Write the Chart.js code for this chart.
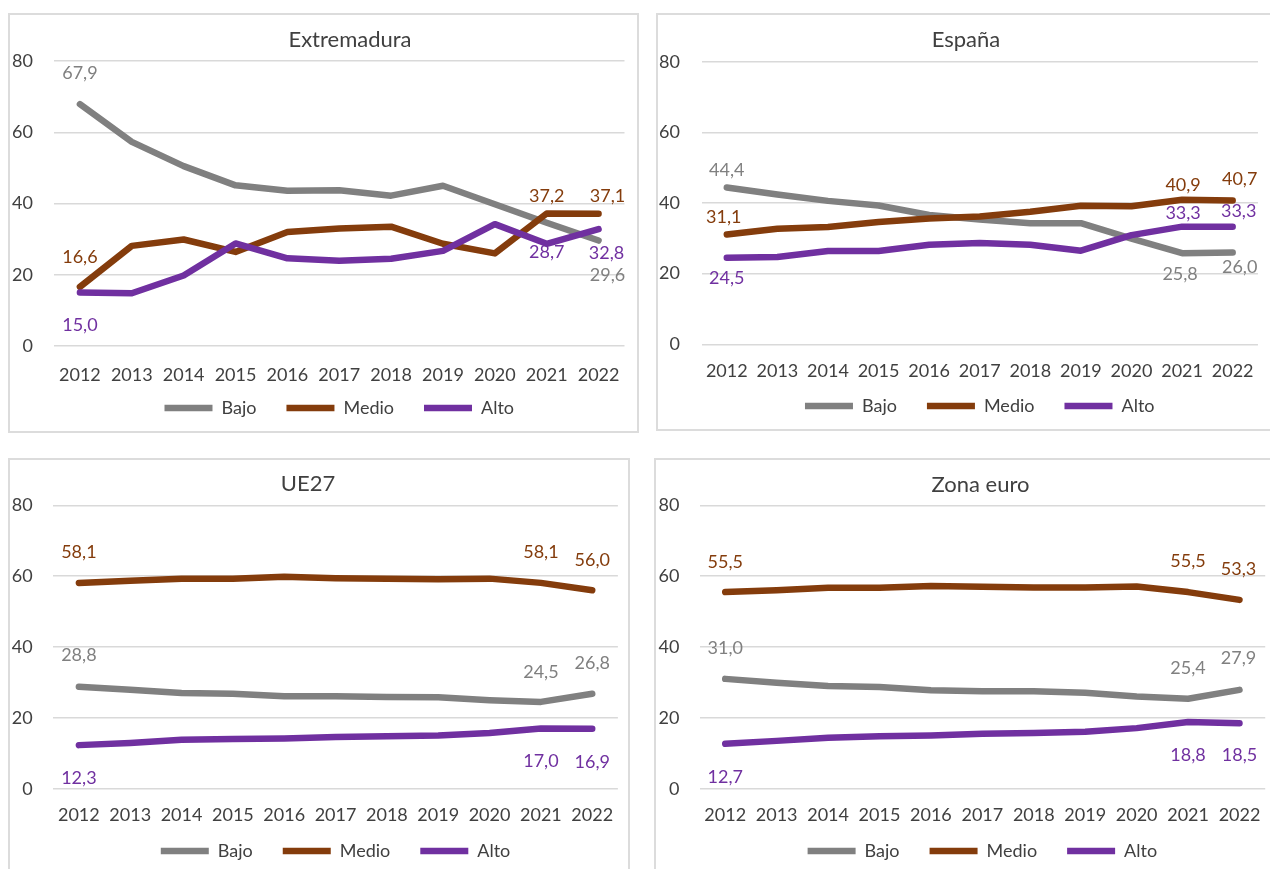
<!DOCTYPE html>
<html>
<head>
<meta charset="utf-8">
<script src="https://cdn.jsdelivr.net/npm/chart.js@4.4.0/dist/chart.umd.min.js"></script>
<style>
html,body{margin:0;padding:0;background:#fff;overflow:hidden;width:1270px;height:869px;position:relative;}
.frame{position:absolute;border:2px solid #dcdcdc;box-sizing:border-box;}
canvas{position:absolute;}
</style>
</head>
<body>
<script>
// ---------- data ----------
const years = ['2012','2013','2014','2015','2016','2017','2018','2019','2020','2021','2022'];
const seriesNames = ['Bajo','Medio','Alto'];
const seriesColors = ['#808080','#843c0c','#7030a0'];
const yMin = 0, yMax = 80, yStep = 20;

const extremaduraBajo  = [67.9,57.3,50.5,45.1,43.6,43.7,42.2,45.0,39.8,34.6,29.6];
const extremaduraMedio = [16.6,28.1,29.9,26.4,32.0,33.0,33.5,28.7,26.0,37.2,37.1];
const extremaduraAlto  = [15.0,14.8,19.8,28.8,24.6,23.9,24.5,26.7,34.2,28.7,32.8];

const espanaBajo  = [44.4,42.4,40.6,39.3,36.6,35.3,34.3,34.3,29.9,25.8,26.0];
const espanaMedio = [31.1,32.7,33.2,34.6,35.6,36.2,37.5,39.2,39.1,40.9,40.7];
const espanaAlto  = [24.5,24.7,26.4,26.4,28.2,28.7,28.2,26.5,30.9,33.3,33.3];

const ue27Bajo  = [28.8,27.9,27.0,26.8,26.1,26.1,25.9,25.8,25.0,24.5,26.8];
const ue27Medio = [58.1,58.7,59.3,59.3,59.8,59.4,59.3,59.1,59.3,58.1,56.0];
const ue27Alto  = [12.3,12.9,13.8,14.0,14.2,14.6,14.8,15.0,15.7,17.0,16.9];

const zonaEuroBajo  = [31.0,29.9,29.0,28.7,27.8,27.5,27.5,27.1,26.0,25.4,27.9];
const zonaEuroMedio = [55.5,56.0,56.7,56.7,57.2,57.0,56.8,56.8,57.1,55.5,53.3];
const zonaEuroAlto  = [12.7,13.5,14.4,14.8,15.0,15.5,15.7,16.1,17.1,18.8,18.5];

const panelTitles = ['Extremadura','España','UE27','Zona euro'];

// ---------- layout (positions only) ----------
const FONT = 'Lato';
const TEXT = '#404040';
const LEGEND_PAD = 30;
const X_AXIS_H = 45;
const LEGEND_H = 18 + LEGEND_PAD + 10;
const panels = [
  {title:panelTitles[0], series:[extremaduraBajo,extremaduraMedio,extremaduraAlto],
   frame:{L:8,T:13,W:631,H:420}, canvas:{L:8,T:13,W:630},
   area:{l:54,t:61,r:626,b:346}, legendY:408, titleX:350, titleY:40, xGap:29, yGap:21,
   labels:[[[0,0,-31],[10,9,34.5]],
           [[0,0,-30],[9,0,-17],[10,9,-18]],
           [[0,0,33],[9,0,8.5],[10,8,24]]]},
  {title:panelTitles[1], series:[espanaBajo,espanaMedio,espanaAlto],
   frame:{L:656,T:13,W:640,H:418}, canvas:{L:656,T:13,W:614},
   area:{l:701.5,t:61.7,r:1269,b:344.3}, legendY:406, titleX:966, titleY:40, xGap:27.4, yGap:21.5,
   labels:[[[0,0,-17],[9,-2,21],[10,7,15]],
           [[0,-3,-17],[9,1,-14.5],[10,7,-21]],
           [[0,0,20],[9,1,-13],[10,6,-15]]]},
  {title:panelTitles[2], series:[ue27Bajo,ue27Medio,ue27Alto],
   frame:{L:8,T:458,W:622,H:440}, canvas:{L:8,T:458,W:621},
   area:{l:53.2,t:505.3,r:620.4,b:788.7}, legendY:851, titleX:308, titleY:484, xGap:26.5, yGap:20.5,
   labels:[[[0,0,-31],[9,0,-30],[10,0,-31]],
           [[0,0,-31],[9,0,-31],[10,0,-30]],
           [[0,0,33],[9,0,33],[10,0,33]]]},
  {title:panelTitles[3], series:[zonaEuroBajo,zonaEuroMedio,zonaEuroAlto],
   frame:{L:654,T:458,W:640,H:440}, canvas:{L:654,T:458,W:622},
   area:{l:699.5,t:505.3,r:1273.5,b:788.7}, legendY:851, titleX:980.5, titleY:485, xGap:26.5, yGap:20,
   labels:[[[0,0,-30.5],[9,0,-31],[10,-1,-31.5]],
           [[0,0,-30],[9,0,-31],[10,-1,-30.5]],
           [[0,0,33],[9,0,33],[10,0,32]]]}
];

function fmt(v){ return v.toFixed(1).replace('.', ','); }

const annotPlugin = {
  id:'annot',
  afterLayout(chart, args, opts){
    // place the legend row at its measured height
    const lg = chart.legend;
    if (lg && opts.legendTop !== undefined) {
      const h = lg.bottom - lg.top;
      lg.top = opts.legendTop;
      lg.bottom = opts.legendTop + h;
    }
  },
  afterDatasetsDraw(chart, args, opts){
    const ctx = chart.ctx;
    ctx.save();
    ctx.font = '18px ' + FONT;
    ctx.textAlign = 'center';
    ctx.textBaseline = 'middle';
    (opts.labels || []).forEach((list, di) => {
      const meta = chart.getDatasetMeta(di);
      const ds = chart.data.datasets[di];
      ctx.fillStyle = ds.borderColor;
      list.forEach(([i, dx, dy]) => {
        const p = meta.data[i];
        ctx.fillText(fmt(ds.data[i]), p.x + dx, p.y + dy);
      });
    });
    ctx.restore();
  },
  afterDraw(chart, args, opts){
    const ctx = chart.ctx;
    ctx.save();
    ctx.font = '22px ' + FONT;
    ctx.fillStyle = TEXT;
    ctx.textAlign = 'center';
    ctx.textBaseline = 'middle';
    ctx.fillText(chart.options.plugins.title.text, opts.titleX, opts.titleY);
    ctx.restore();
  }
};

panels.forEach((p, k) => {
  const fr = document.createElement('div');
  fr.className = 'frame';
  Object.assign(fr.style, {left:p.frame.L+'px', top:p.frame.T+'px', width:p.frame.W+'px', height:p.frame.H+'px'});
  document.body.appendChild(fr);

  const c = p.canvas;
  const H = Math.ceil(p.area.b + X_AXIS_H + LEGEND_H - c.T);
  const cv = document.createElement('canvas');
  cv.width = c.W; cv.height = H;
  Object.assign(cv.style, {left:c.L+'px', top:c.T+'px', width:c.W+'px', height:H+'px'});
  document.body.appendChild(cv);

  const padTop = p.area.t - c.T;
  const padRight = (c.L + c.W) - p.area.r;
  const padBottom = (c.T + H) - (p.area.b + X_AXIS_H + LEGEND_H);
  const yAxisW = p.area.l - c.L;
  const legendTop = (p.legendY - LEGEND_PAD - 9) - c.T;

  new Chart(cv, {
    type:'line',
    data:{
      labels: years,
      datasets: seriesNames.map((name, i) => ({
        label: name,
        data: p.series[i],
        borderColor: seriesColors[i],
        backgroundColor: seriesColors[i],
        borderWidth: 6.5,
        borderCapStyle: 'round',
        borderJoinStyle: 'round',
        pointRadius: 0,
        pointHoverRadius: 0,
        tension: 0,
        fill: false,
        order: 3 - i
      }))
    },
    options:{
      responsive:false,
      animation:false,
      events:[],
      layout:{padding:{top:padTop, right:padRight, bottom:padBottom, left:0}},
      scales:{
        x:{
          offset:true,
          grid:{display:false, drawTicks:false},
          border:{display:false},
          ticks:{color:TEXT, font:{family:FONT, size:18}, padding:p.xGap - 11, maxRotation:0, autoSkip:false},
          afterFit(s){ s.height = X_AXIS_H; }
        },
        y:{
          min:yMin, max:yMax,
          grid:{color:'#d9d9d9', lineWidth:1.5, drawTicks:false},
          border:{display:false},
          ticks:{stepSize:yStep, color:TEXT, font:{family:FONT, size:18}, padding:p.yGap},
          afterFit(s){ s.width = yAxisW; }
        }
      },
      plugins:{
        title:{display:false, text:p.title},
        tooltip:{enabled:false},
        legend:{
          display:true, position:'bottom', fullSize:false,
          labels:{
            usePointStyle:true, pointStyle:'line', pointStyleWidth:48,
            padding:LEGEND_PAD, color:TEXT, font:{family:FONT, size:18},
            sort:(a,b) => a.datasetIndex - b.datasetIndex
          }
        },
        annot:{labels:p.labels, titleX:p.titleX - c.L, titleY:p.titleY - c.T, legendTop:legendTop}
      }
    },
    plugins:[annotPlugin]
  });
});
</script>
</body>
</html>
